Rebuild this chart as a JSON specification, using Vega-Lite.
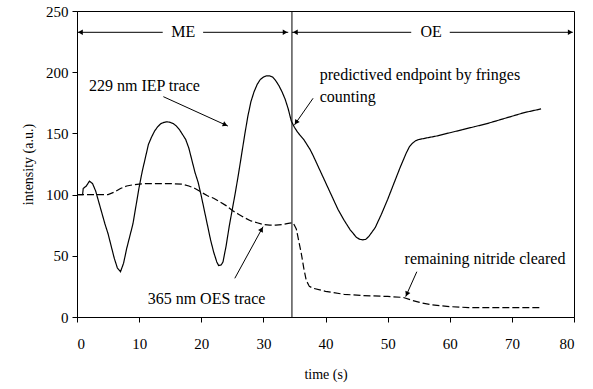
{
  "$schema": "https://vega.github.io/schema/vega-lite/v6.json",
  "width": 497,
  "height": 306,
  "autosize": {"type": "none"},
  "padding": {"left": 77, "top": 11, "right": 19, "bottom": 72},
  "config": {
    "view": {"stroke": "black", "strokeWidth": 1},
    "font": "Times New Roman, Liberation Serif, serif",
    "axis": {
      "grid": false,
      "domainColor": "black",
      "tickColor": "black",
      "labelColor": "black",
      "titleColor": "black",
      "labelFont": "Times New Roman, Liberation Serif, serif",
      "titleFont": "Times New Roman, Liberation Serif, serif",
      "labelFontSize": 15,
      "titleFontSize": 14,
      "titleFontWeight": "normal",
      "tickSize": 5
    },
    "axisX": {"labelPadding": 14, "titlePadding": 16},
    "axisY": {"labelPadding": 4, "titlePadding": 10}
  },
  "datasets": {
    "traces": [
      {"series": "IEP", "t": 0, "v": 100}, {"series": "IEP", "t": 0.9, "v": 100}, {"series": "IEP", "t": 1.0, "v": 105},
      {"series": "IEP", "t": 1.5, "v": 107}, {"series": "IEP", "t": 2, "v": 111}, {"series": "IEP", "t": 2.5, "v": 109},
      {"series": "IEP", "t": 3, "v": 103}, {"series": "IEP", "t": 3.5, "v": 94}, {"series": "IEP", "t": 4, "v": 85},
      {"series": "IEP", "t": 4.5, "v": 76}, {"series": "IEP", "t": 5, "v": 68}, {"series": "IEP", "t": 5.5, "v": 58},
      {"series": "IEP", "t": 6, "v": 48}, {"series": "IEP", "t": 6.5, "v": 40}, {"series": "IEP", "t": 7, "v": 37},
      {"series": "IEP", "t": 7.5, "v": 44}, {"series": "IEP", "t": 8, "v": 56}, {"series": "IEP", "t": 8.5, "v": 66},
      {"series": "IEP", "t": 9, "v": 76}, {"series": "IEP", "t": 9.5, "v": 91}, {"series": "IEP", "t": 10, "v": 106},
      {"series": "IEP", "t": 10.5, "v": 119}, {"series": "IEP", "t": 11, "v": 130}, {"series": "IEP", "t": 11.5, "v": 141},
      {"series": "IEP", "t": 12, "v": 147}, {"series": "IEP", "t": 12.5, "v": 152}, {"series": "IEP", "t": 13, "v": 155.5},
      {"series": "IEP", "t": 13.5, "v": 158}, {"series": "IEP", "t": 14, "v": 159}, {"series": "IEP", "t": 14.5, "v": 159.5},
      {"series": "IEP", "t": 15, "v": 159}, {"series": "IEP", "t": 15.5, "v": 158}, {"series": "IEP", "t": 16, "v": 156},
      {"series": "IEP", "t": 16.5, "v": 153}, {"series": "IEP", "t": 17, "v": 149}, {"series": "IEP", "t": 17.5, "v": 145},
      {"series": "IEP", "t": 18, "v": 138}, {"series": "IEP", "t": 18.5, "v": 128}, {"series": "IEP", "t": 19, "v": 118},
      {"series": "IEP", "t": 19.5, "v": 110}, {"series": "IEP", "t": 20, "v": 99}, {"series": "IEP", "t": 20.5, "v": 87},
      {"series": "IEP", "t": 21, "v": 75}, {"series": "IEP", "t": 21.5, "v": 63}, {"series": "IEP", "t": 22, "v": 53},
      {"series": "IEP", "t": 22.5, "v": 45}, {"series": "IEP", "t": 22.8, "v": 42}, {"series": "IEP", "t": 23.2, "v": 42.5},
      {"series": "IEP", "t": 23.5, "v": 45}, {"series": "IEP", "t": 24, "v": 58}, {"series": "IEP", "t": 24.5, "v": 74},
      {"series": "IEP", "t": 25, "v": 88}, {"series": "IEP", "t": 25.5, "v": 102}, {"series": "IEP", "t": 26, "v": 117},
      {"series": "IEP", "t": 26.5, "v": 133}, {"series": "IEP", "t": 27, "v": 149}, {"series": "IEP", "t": 27.5, "v": 164},
      {"series": "IEP", "t": 28, "v": 176}, {"series": "IEP", "t": 28.5, "v": 184}, {"series": "IEP", "t": 29, "v": 190},
      {"series": "IEP", "t": 29.5, "v": 194}, {"series": "IEP", "t": 30, "v": 196}, {"series": "IEP", "t": 30.5, "v": 197},
      {"series": "IEP", "t": 31, "v": 197}, {"series": "IEP", "t": 31.5, "v": 196}, {"series": "IEP", "t": 32, "v": 193},
      {"series": "IEP", "t": 32.5, "v": 189}, {"series": "IEP", "t": 33, "v": 184}, {"series": "IEP", "t": 33.5, "v": 178},
      {"series": "IEP", "t": 34, "v": 170}, {"series": "IEP", "t": 34.5, "v": 160}, {"series": "IEP", "t": 35, "v": 155},
      {"series": "IEP", "t": 35.5, "v": 151}, {"series": "IEP", "t": 36, "v": 148}, {"series": "IEP", "t": 36.5, "v": 145},
      {"series": "IEP", "t": 37, "v": 141}, {"series": "IEP", "t": 37.5, "v": 137}, {"series": "IEP", "t": 38, "v": 132},
      {"series": "IEP", "t": 39, "v": 121}, {"series": "IEP", "t": 40, "v": 110}, {"series": "IEP", "t": 41, "v": 99},
      {"series": "IEP", "t": 42, "v": 88}, {"series": "IEP", "t": 43, "v": 79}, {"series": "IEP", "t": 44, "v": 71},
      {"series": "IEP", "t": 45, "v": 65}, {"series": "IEP", "t": 45.5, "v": 63.5}, {"series": "IEP", "t": 46, "v": 63},
      {"series": "IEP", "t": 46.5, "v": 63.5}, {"series": "IEP", "t": 47, "v": 66}, {"series": "IEP", "t": 48, "v": 73},
      {"series": "IEP", "t": 49, "v": 84}, {"series": "IEP", "t": 50, "v": 96}, {"series": "IEP", "t": 51, "v": 109},
      {"series": "IEP", "t": 52, "v": 122}, {"series": "IEP", "t": 53, "v": 134}, {"series": "IEP", "t": 53.5, "v": 139},
      {"series": "IEP", "t": 54, "v": 142}, {"series": "IEP", "t": 54.5, "v": 144}, {"series": "IEP", "t": 55, "v": 145},
      {"series": "IEP", "t": 56, "v": 146}, {"series": "IEP", "t": 58, "v": 148}, {"series": "IEP", "t": 60, "v": 150.5},
      {"series": "IEP", "t": 62, "v": 153}, {"series": "IEP", "t": 64, "v": 155.5}, {"series": "IEP", "t": 66, "v": 158},
      {"series": "IEP", "t": 68, "v": 161}, {"series": "IEP", "t": 70, "v": 164}, {"series": "IEP", "t": 72, "v": 167},
      {"series": "IEP", "t": 74.7, "v": 170},
      {"series": "OES", "t": 0, "v": 100}, {"series": "OES", "t": 5, "v": 100}, {"series": "OES", "t": 6, "v": 102},
      {"series": "OES", "t": 7, "v": 105}, {"series": "OES", "t": 8, "v": 107}, {"series": "OES", "t": 9, "v": 108},
      {"series": "OES", "t": 10, "v": 108.5}, {"series": "OES", "t": 11, "v": 109}, {"series": "OES", "t": 13, "v": 109},
      {"series": "OES", "t": 15, "v": 109}, {"series": "OES", "t": 17, "v": 108.5}, {"series": "OES", "t": 18, "v": 107},
      {"series": "OES", "t": 19, "v": 105}, {"series": "OES", "t": 20, "v": 102}, {"series": "OES", "t": 21, "v": 99},
      {"series": "OES", "t": 22, "v": 97}, {"series": "OES", "t": 23, "v": 94}, {"series": "OES", "t": 24, "v": 91},
      {"series": "OES", "t": 25, "v": 87}, {"series": "OES", "t": 26, "v": 84}, {"series": "OES", "t": 27, "v": 81},
      {"series": "OES", "t": 28, "v": 78.5}, {"series": "OES", "t": 29, "v": 77}, {"series": "OES", "t": 30, "v": 75.5},
      {"series": "OES", "t": 31, "v": 75}, {"series": "OES", "t": 32, "v": 75}, {"series": "OES", "t": 33, "v": 75.5},
      {"series": "OES", "t": 34, "v": 76.5}, {"series": "OES", "t": 34.8, "v": 77}, {"series": "OES", "t": 35.3, "v": 72},
      {"series": "OES", "t": 35.7, "v": 62}, {"series": "OES", "t": 36.1, "v": 52}, {"series": "OES", "t": 36.5, "v": 40},
      {"series": "OES", "t": 36.9, "v": 30}, {"series": "OES", "t": 37.4, "v": 25}, {"series": "OES", "t": 38, "v": 23.5},
      {"series": "OES", "t": 40, "v": 21}, {"series": "OES", "t": 43, "v": 18.5}, {"series": "OES", "t": 46, "v": 17.5},
      {"series": "OES", "t": 50, "v": 16.8}, {"series": "OES", "t": 52.5, "v": 16}, {"series": "OES", "t": 54, "v": 13.5},
      {"series": "OES", "t": 55.5, "v": 11.5}, {"series": "OES", "t": 57, "v": 10}, {"series": "OES", "t": 60, "v": 8.5},
      {"series": "OES", "t": 63, "v": 7.7}, {"series": "OES", "t": 67, "v": 7.6}, {"series": "OES", "t": 74.7, "v": 7.6}
    ],
    "segments": [
      {"t": 34.6, "v": 0, "t2": 34.6, "v2": 250},
      {"t": 0, "v": 232.6, "t2": 13.8, "v2": 232.6},
      {"t": 20.3, "v": 232.6, "t2": 34.0, "v2": 232.6},
      {"t": 34.6, "v": 232.6, "t2": 53.8, "v2": 232.6},
      {"t": 60.0, "v": 232.6, "t2": 79.8, "v2": 232.6},
      {"t": 13.9, "v": 180, "t2": 24.3, "v2": 156},
      {"t": 25.4, "v": 31.6, "t2": 29.95, "v2": 73.8},
      {"t": 38.0, "v": 178.7, "t2": 35.0, "v2": 156.9},
      {"t": 54.7, "v": 37, "t2": 52.9, "v2": 16.6}
    ],
    "labels": [
      {"t": 1.93, "v": 188.7, "label": "229 nm IEP trace"},
      {"t": 11.37, "v": 14.5, "label": "365 nm OES trace"},
      {"t": 39.07, "v": 197.7, "label": "predictived endpoint by fringes"},
      {"t": 39.07, "v": 180, "label": "counting"},
      {"t": 52.73, "v": 47.1, "label": "remaining nitride cleared"}
    ],
    "phases": [
      {"t": 17.1, "v": 232.6, "label": "ME"},
      {"t": 57.0, "v": 232.6, "label": "OE"}
    ]
  },
  "encoding": {
    "x": {"field": "t", "type": "quantitative", "title": "time (s)",
          "scale": {"domain": [0, 80], "nice": false, "zero": false},
          "axis": {"values": [0, 10, 20, 30, 40, 50, 60, 70, 80]}},
    "y": {"field": "v", "type": "quantitative", "title": "intensity (a.u.)",
          "scale": {"domain": [0, 250], "nice": false},
          "axis": {"values": [0, 50, 100, 150, 200, 250]}}
  },
  "layer": [
    {
      "data": {"name": "traces"},
      "mark": {"type": "line", "color": "black", "strokeWidth": 1.2},
      "encoding": {
        "strokeDash": {"field": "series", "type": "nominal", "legend": null,
                       "scale": {"domain": ["IEP", "OES"], "range": [[1, 0], [7, 3]]}}
      }
    },
    {
      "data": {"name": "segments"},
      "mark": {"type": "rule", "color": "black", "strokeWidth": 1},
      "encoding": {
        "x2": {"field": "t2"},
        "y2": {"field": "v2"}
      }
    },
    {
      "data": {"values": [{"t": 0.55, "v": 232.6}, {"t": 35.15, "v": 232.6}]},
      "mark": {"type": "point", "shape": "triangle-up", "filled": true, "color": "black", "size": 30, "angle": 270, "opacity": 1},
      "encoding": {}
    },
    {
      "data": {"values": [{"t": 33.5, "v": 232.6}, {"t": 79.4, "v": 232.6}]},
      "mark": {"type": "point", "shape": "triangle-up", "filled": true, "color": "black", "size": 30, "angle": 90, "opacity": 1},
      "encoding": {}
    },
    {
      "data": {"values": [{"t": 23.86, "v": 157}]},
      "mark": {"type": "point", "shape": "triangle-up", "filled": true, "color": "black", "size": 30, "angle": 114, "opacity": 1},
      "encoding": {}
    },
    {
      "data": {"values": [{"t": 29.72, "v": 71.65}]},
      "mark": {"type": "point", "shape": "triangle-up", "filled": true, "color": "black", "size": 30, "angle": 29, "opacity": 1},
      "encoding": {}
    },
    {
      "data": {"values": [{"t": 35.27, "v": 158.9}]},
      "mark": {"type": "point", "shape": "triangle-up", "filled": true, "color": "black", "size": 30, "angle": 214, "opacity": 1},
      "encoding": {}
    },
    {
      "data": {"values": [{"t": 53.1, "v": 18.8}]},
      "mark": {"type": "point", "shape": "triangle-up", "filled": true, "color": "black", "size": 30, "angle": 204, "opacity": 1},
      "encoding": {}
    },
    {
      "data": {"name": "labels"},
      "mark": {"type": "text", "align": "left", "baseline": "middle", "font": "Times New Roman, Liberation Serif, serif", "fontSize": 16, "color": "black"},
      "encoding": {"text": {"field": "label"}}
    },
    {
      "data": {"name": "phases"},
      "mark": {"type": "text", "align": "center", "baseline": "middle", "font": "Times New Roman, Liberation Serif, serif", "fontSize": 16, "color": "black"},
      "encoding": {"text": {"field": "label"}}
    }
  ]
}
